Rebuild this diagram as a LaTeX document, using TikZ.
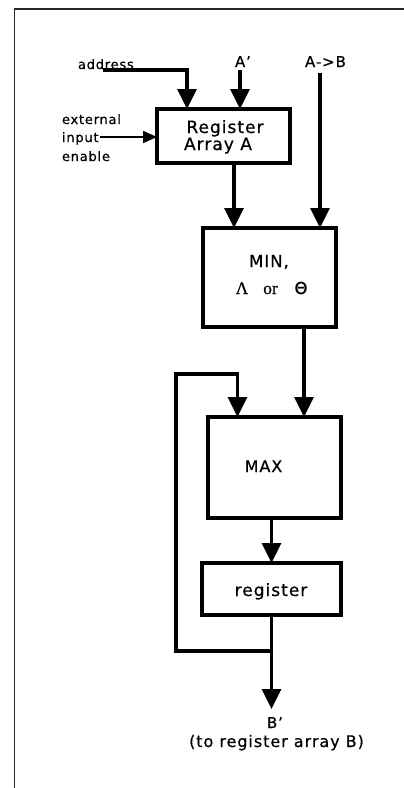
\documentclass[tikz,border=0pt]{standalone}
\usepackage{fontspec}
\setmainfont{DejaVu Sans}[LetterSpace=6, FakeBold=0.6]
\newfontfamily\serifo{Liberation Serif}[FakeBold=0.6]
\usetikzlibrary{arrows.meta}
\tikzset{
  box/.style={draw, line width=3.2pt, inner sep=0pt, outer sep=0pt, anchor=north west},
  conn/.style={line width=3.2pt, -{Triangle[length=20pt,width=19pt]}},
  thinconn/.style={line width=1.6pt, -{Triangle[length=14pt,width=12pt]}},
  frame/.style={line width=1.4pt, draw=black!85},
  txt/.style={inner sep=0pt, outer sep=0pt, anchor=base},
  txtl/.style={inner sep=0pt, outer sep=0pt, anchor=base west},
}
\begin{document}
\begin{tikzpicture}[x=1pt,y=-1pt]
\useasboundingbox (0,0) rectangle (404,788);
% partial frame
\coordinate (ftr) at (404,9);
\coordinate (ftl) at (14.5,9);
\coordinate (fbl) at (14.5,788);
\draw[frame] (ftr) -- (ftl) -- (fbl);

% boxes
\node[box, minimum width=133pt, minimum height=54pt] (rega) at (157,109) {};
\node[box, minimum width=133pt, minimum height=99pt] (min) at (203,228) {};
\node[box, minimum width=133pt, minimum height=101pt] (max) at (208,417) {};
\node[box, minimum width=139pt, minimum height=52pt] (reg) at (202,563) {};

% texts
\node[txtl, font=\fontsize{13}{15}\selectfont] (taddr) at (78,69) {address};
\node[txtl, font=\fontsize{15}{17}\selectfont] (tap) at (235,67) {A’};
\node[txtl, font=\fontsize{15}{17}\selectfont] (tab) at (305,67) {A->B};
\node[txtl, font=\fontsize{13}{15}\selectfont] (text1) at (62,124) {external};
\node[txtl, font=\fontsize{13}{15}\selectfont] (text2) at (62,142) {input};
\node[txtl, font=\fontsize{13}{15}\selectfont] (text3) at (62,161) {enable};
\node[txt, font=\fontsize{17}{19}\selectfont] (treg1) at (225,133) {Register};
\node[txt, font=\fontsize{17}{19}\selectfont] (treg2) at (218,150) {Array A};
\node[txt, font=\fontsize{16.5}{19}\selectfont] (tmin) at (269,267) {MIN,};
\node[txt, font=\fontsize{17.5}{19}\selectfont\serifo] (tlam) at (242,294) {Λ};
\node[txt, font=\fontsize{17.5}{19}\selectfont\serifo] (tor) at (270.5,294) {or};
\node[txt, font=\fontsize{16.5}{19}\selectfont] (tth) at (301,294) {Θ};
\node[txt, font=\fontsize{16}{19}\selectfont] (tmax) at (263.5,472) {MAX};
\node[txt, font=\fontsize{17}{19}\selectfont] (treg) at (271,596) {register};
\node[txtl, font=\fontsize{15}{17}\selectfont] (tbp) at (267,728) {B’};
\node[txt, font=\fontsize{16}{18}\selectfont] (tto) at (276.5,747) {(to register array B)};

% connector end points
\coordinate (addr) at (103,70);
\coordinate (ap) at (240,70);
\coordinate (ab) at (320,73);
\coordinate (ext) at (100,137);
\coordinate (j) at (271.5,651);
\coordinate (fb1) at (176,651);
\coordinate (fb2) at (176,374);
\coordinate (out) at (271.5,709);

% connectors
\draw[conn] (addr) -| ([xshift=30pt]rega.north west);
\draw[conn] (ap) -- (ap |- rega.north);
\draw[conn] (ab) -- (ab |- min.north);
\draw[thinconn] (ext) -- (ext -| rega.west);
\draw[conn] ([xshift=10.5pt]rega.south) -- ([xshift=10.5pt]rega.south |- min.north);
\draw[conn] ([xshift=34.5pt]min.south) -- ([xshift=34.5pt]min.south |- max.north);
\draw[conn] (reg.north |- max.south) -- (reg.north);
\draw[conn] (reg.south) -- (out);
\draw[conn, line join=miter] (j) -- (fb1) -- (fb2) -| ([xshift=-37pt]max.north);
\end{tikzpicture}
\end{document}
